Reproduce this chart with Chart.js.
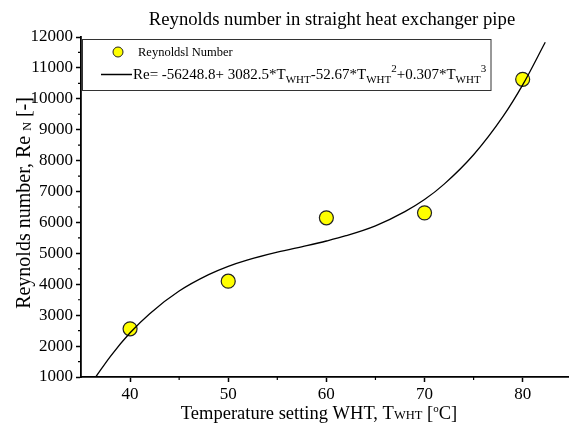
<!DOCTYPE html>
<html>
<head>
<meta charset="utf-8">
<title>Reynolds number in straight heat exchanger pipe</title>
<script src="https://cdn.jsdelivr.net/npm/chart.js@4.4.1/dist/chart.umd.min.js"></script>
<style>
  html, body { margin: 0; padding: 0; background: #fff; }
  canvas { display: block; }
</style>
</head>
<body>
<canvas id="chart" width="569" height="428"></canvas>
<script>
// measured points
var tempValues = [40, 50, 60, 70, 80];
var reynoldsValues = [2560, 4100, 6150, 6310, 10630];

// fitted cubic
var fitTemps = [36.5, 38, 40, 42, 45, 48, 50, 52, 55, 58, 60, 62, 65, 68, 70, 72, 75, 78, 80, 82.3];
var fitValues = [1000, 1670, 2430, 3050, 3780, 4310, 4580, 4790, 5040, 5250, 5400, 5570, 5890, 6350, 6740, 7240, 8190, 9430, 10450, 11830];

var xTicks = [40, 50, 60, 70, 80];
var xMinorTicks = [45, 55, 65, 75];
var yTicks = [1000, 2000, 3000, 4000, 5000, 6000, 7000, 8000, 9000, 10000, 11000, 12000];
var yMinorTicks = [1500, 2500, 3500, 4500, 5500, 6500, 7500, 8500, 9500, 10500, 11500];

var titleText = 'Reynolds number in straight heat exchanger pipe';
var pointsLabel = 'Reynoldsl Number';

var SERIF = '"Liberation Serif", "Times New Roman", serif';

function toPoints(xs, ys) {
    return xs.map(function(x, i) { return {x: x, y: ys[i]}; });
}

// text with sub/superscripts, parts = [{t, size, dy}]
function richWidth(ctx, parts) {
    var w = 0;
    parts.forEach(function(p) {
        ctx.font = p.size + 'px ' + SERIF;
        w += ctx.measureText(p.t).width;
    });
    return w;
}
function drawRich(ctx, parts, x, y) {
    parts.forEach(function(p) {
        ctx.font = p.size + 'px ' + SERIF;
        ctx.fillText(p.t, x, y + (p.dy || 0));
        x += ctx.measureText(p.t).width;
    });
}

var decorPlugin = {
    id: 'decor',
    afterDraw: function(chart) {
        var ctx = chart.ctx, area = chart.chartArea;
        var xs = chart.scales.x, ys = chart.scales.y;
        ctx.save();
        ctx.fillStyle = '#000';
        ctx.strokeStyle = '#000';
        ctx.textAlign = 'left';
        ctx.textBaseline = 'alphabetic';

        // minor ticks
        ctx.lineWidth = 1.2;
        ctx.beginPath();
        xMinorTicks.forEach(function(v) {
            var px = xs.getPixelForValue(v);
            ctx.moveTo(px, area.bottom);
            ctx.lineTo(px, area.bottom + 3);
        });
        yMinorTicks.forEach(function(v) {
            var py = ys.getPixelForValue(v);
            ctx.moveTo(area.left, py);
            ctx.lineTo(area.left - 3, py);
        });
        ctx.stroke();

        // title
        ctx.font = '18.7px ' + SERIF;
        ctx.textAlign = 'center';
        ctx.fillText(titleText, 332, 25);
        ctx.textAlign = 'left';

        // x axis title
        var xParts = [
            {t: 'Temperature setting WHT, T', size: 18.5},
            {t: 'WHT', size: 12.5},
            {t: ' [', size: 18.5},
            {t: 'o', size: 11, dy: -7},
            {t: 'C]', size: 18.5}
        ];
        drawRich(ctx, xParts, 319 - richWidth(ctx, xParts) / 2, 419);

        // y axis title
        var yParts = [
            {t: 'Reynolds number, Re ', size: 20},
            {t: 'N', size: 12, dy: 1},
            {t: ' [-]', size: 20}
        ];
        ctx.save();
        ctx.translate(30, 203);
        ctx.rotate(-Math.PI / 2);
        drawRich(ctx, yParts, -richWidth(ctx, yParts) / 2, 0);
        ctx.restore();

        // legend box
        ctx.fillStyle = '#fff';
        ctx.fillRect(82.5, 39.5, 408.5, 51);
        ctx.lineWidth = 1;
        ctx.strokeStyle = '#333';
        ctx.strokeRect(82.5, 39.5, 408.5, 51);

        ctx.fillStyle = '#ffff00';
        ctx.strokeStyle = '#222';
        ctx.beginPath();
        ctx.arc(118, 52, 5, 0, Math.PI * 2);
        ctx.fill();
        ctx.stroke();

        ctx.fillStyle = '#000';
        ctx.font = '12.5px ' + SERIF;
        ctx.fillText(pointsLabel, 138, 56);

        ctx.strokeStyle = '#000';
        ctx.lineWidth = 1.5;
        ctx.beginPath();
        ctx.moveTo(101, 74.5);
        ctx.lineTo(132, 74.5);
        ctx.stroke();

        var fitParts = [
            {t: 'Re= -56248.8+ 3082.5*T', size: 15},
            {t: 'WHT', size: 11, dy: 4},
            {t: '-52.67*T', size: 15},
            {t: 'WHT', size: 11, dy: 4},
            {t: '2', size: 11, dy: -7},
            {t: '+0.307*T', size: 15},
            {t: 'WHT', size: 11, dy: 4},
            {t: '3', size: 11, dy: -7}
        ];
        drawRich(ctx, fitParts, 133, 79);
        ctx.restore();
    }
};

var tickFont = {family: SERIF, size: 17};

function plainLabel(v) { return String(v); }

new Chart(document.getElementById('chart'), {
    type: 'scatter',
    data: {
        datasets: [{
            label: 'fit',
            type: 'line',
            data: toPoints(fitTemps, fitValues),
            borderColor: '#000',
            borderWidth: 1.3,
            pointRadius: 0,
            fill: false,
            cubicInterpolationMode: 'monotone',
            order: 1
        }, {
            label: pointsLabel,
            data: toPoints(tempValues, reynoldsValues),
            backgroundColor: '#ffff00',
            borderColor: '#222',
            borderWidth: 1.2,
            pointRadius: 7,
            order: 2
        }]
    },
    options: {
        responsive: false,
        animation: false,
        layout: {autoPadding: false, padding: {top: 37, right: 0, bottom: 0, left: 0}},
        plugins: {
            legend: {display: false},
            tooltip: {enabled: false},
            title: {display: false}
        },
        scales: {
            x: {
                type: 'linear',
                min: 35,
                max: 84.72,
                afterBuildTicks: function(s) {
                    s.ticks = xTicks.map(function(v) { return {value: v}; });
                },
                afterFit: function(s) {
                    s.height = 51;
                    s.paddingLeft = 0;
                    s.paddingRight = 0;
                },
                ticks: {font: tickFont, color: '#000', padding: 2, maxRotation: 0, autoSkip: false, callback: plainLabel},
                grid: {drawOnChartArea: false, tickLength: 5, tickColor: '#000', tickWidth: 1.5},
                border: {color: '#000', width: 1.8}
            },
            y: {
                min: 1000,
                max: 12000,
                afterBuildTicks: function(s) {
                    s.ticks = yTicks.map(function(v) { return {value: v}; });
                },
                afterFit: function(s) { s.width = 81; },
                ticks: {font: tickFont, color: '#000', padding: 3, autoSkip: false, callback: plainLabel},
                grid: {drawOnChartArea: false, tickLength: 5, tickColor: '#000', tickWidth: 1.5},
                border: {color: '#000', width: 1.8}
            }
        }
    },
    plugins: [decorPlugin]
});
</script>
</body>
</html>
